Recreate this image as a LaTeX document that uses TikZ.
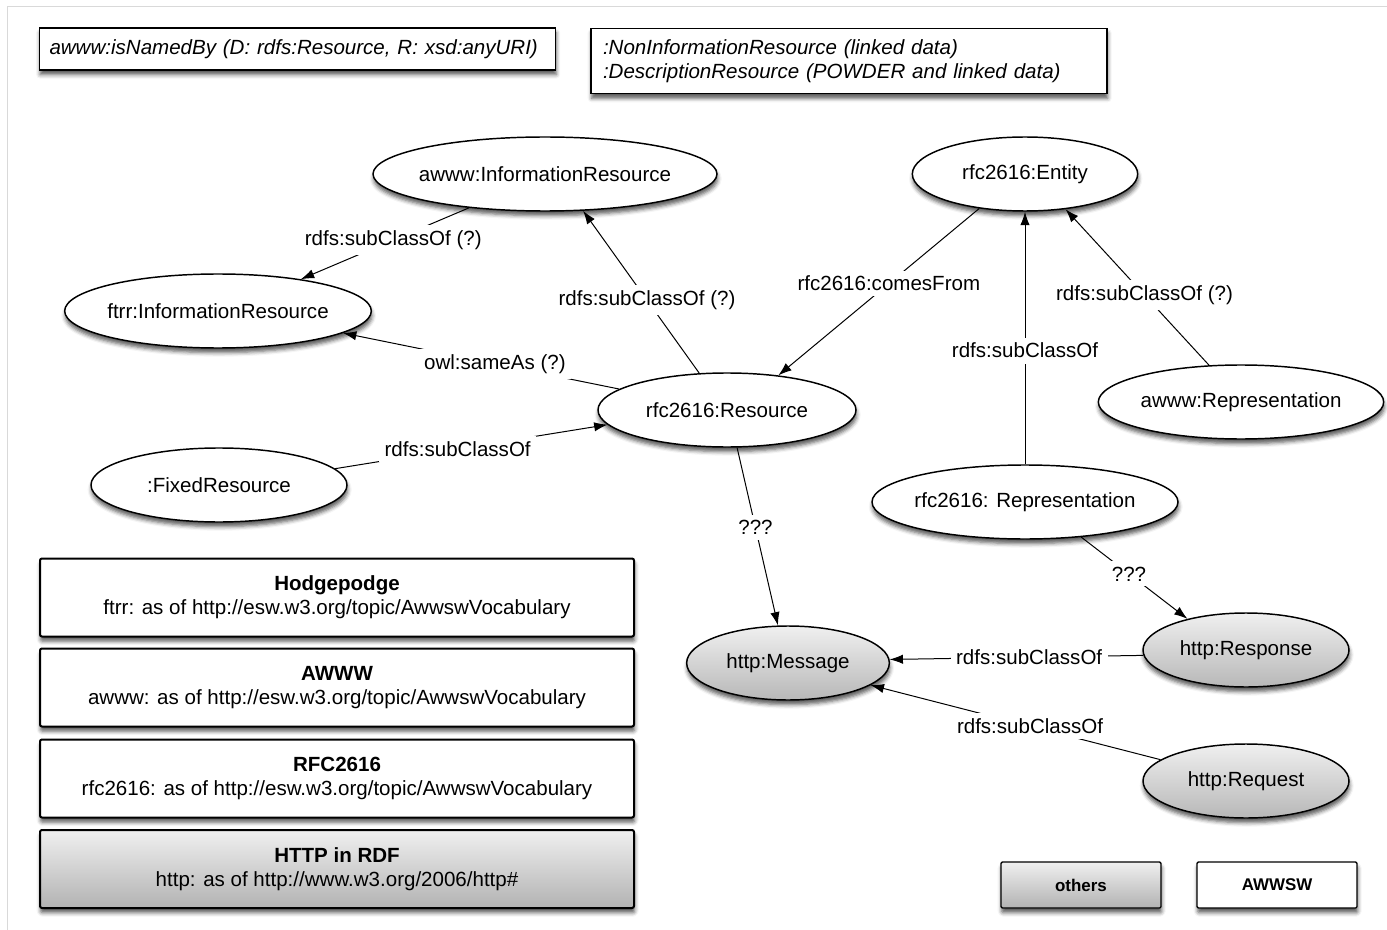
\documentclass[tikz,border=0pt]{standalone}
\usepackage{fontspec}
\setmainfont{Liberation Sans}
\usetikzlibrary{shapes.geometric,arrows.meta,shadows.blur}
\newcommand{\ctext}[1]{\makebox[0pt]{#1}}

\begin{document}
\begin{tikzpicture}[x=0.75pt,y=0.75pt,yscale=-1,xscale=1,
	font=\fontsize{15.4}{18}\selectfont,
	shade/.style={blur shadow={shadow xshift=0.5pt,shadow yshift=-3.5pt,shadow blur radius=3pt,shadow opacity=65}},
	cls/.style={ellipse,draw,line width=1.1pt,fill=white,inner sep=0pt,minimum height=55.5pt,minimum width=#1,shade},
	httpcls/.style={cls=#1,top color=black!6,bottom color=black!28},
	note/.style={draw,line width=1pt,fill=white,align=left,inner ysep=0pt,shade},
	vocab/.style={draw,line width=1.5pt,rounded corners=1.5pt,fill=white,align=center,minimum width=445.5pt,minimum height=58.5pt,shade},
	key/.style={draw,line width=1pt,rounded corners=1pt,fill=white,minimum width=120pt,minimum height=34.5pt,font=\fontsize{12.7}{15}\selectfont\bfseries,shade},
	rel/.style={-{Latex[length=10pt,width=7pt]},line width=0.75pt},
	lbl/.style={fill=white,inner sep=4pt,pos=0.45}]
	\useasboundingbox (0,0) rectangle (1387,930);
	%frame
	\draw[black!15] (7,930) -- (7,6) -- (1387,6);

	%Shape: Rectangle
	\node[note,minimum width=387pt,minimum height=31.5pt,text width=372pt] (named) at (297.5,49) {\itshape awww:isNamedBy (D: rdfs:Resource, R: xsd:anyURI)};
	%Shape: Rectangle
	\node[note,minimum width=387pt,minimum height=49pt,text width=369pt] (kinds) at (849,61) {\itshape :NonInformationResource (linked data)\\\itshape :DescriptionResource (POWDER and linked data)};

	%Shape: Ellipse
	\node[cls=258pt] (awwwIR) at (545,174) {\ctext{awww:InformationResource}};
	%Shape: Ellipse
	\node[cls=169pt] (entity) at (1025,174) {\ctext{rfc2616:Entity}};
	%Shape: Ellipse
	\node[cls=230pt] (ftrrIR) at (218,311) {\ctext{ftrr:InformationResource}};
	%Shape: Ellipse
	\node[cls=193.5pt] (resource) at (727,410) {\ctext{rfc2616:Resource}};
	%Shape: Ellipse
	\node[cls=214pt] (awwwRep) at (1241,402) {\ctext{awww:Representation}};
	%Shape: Ellipse
	\node[cls=192pt] (fixed) at (219,485) {\ctext{:FixedResource}};
	%Shape: Ellipse
	\node[cls=229.5pt] (rep) at (1025,502) {\ctext{rfc2616: Representation}};
	%Shape: Ellipse
	\node[httpcls=152pt] (message) at (788,663) {\ctext{http:Message}};
	%Shape: Ellipse
	\node[httpcls=154.5pt] (response) at (1246,650) {\ctext{http:Response}};
	%Shape: Ellipse
	\node[httpcls=154.5pt] (request) at (1246,781) {\ctext{http:Request}};

	%Straight Lines
	\draw[rel] (awwwIR.204) -- node[lbl] {rdfs:subClassOf (?)} (ftrrIR.21);
	%Straight Lines
	\draw[rel] (resource.127) -- node[lbl] {rdfs:subClassOf (?)} (awwwIR.316);
	%Straight Lines
	\draw[rel] (resource.169) -- node[lbl] {owl:sameAs (?)} (ftrrIR.350);
	%Straight Lines
	\draw[rel] (fixed.8) -- node[lbl] {rdfs:subClassOf} (resource.187);
	%Straight Lines
	\draw[rel] (entity.217) -- node[lbl] {rfc2616:comesFrom} (resource.34);
	%Straight Lines
	\draw[rel] (rep.north) -- node[lbl] {rdfs:subClassOf} (entity.south);
	%Straight Lines
	\draw[rel] (awwwRep.131) -- node[lbl] {rdfs:subClassOf (?)} (entity.319);
	%Straight Lines
	\draw[rel] (resource.285) -- node[lbl] {???} (message.105);
	%Straight Lines
	\draw[rel] (rep.328) -- node[lbl] {???} (response.152);
	%Straight Lines
	\draw[rel] (response.183) -- node[lbl] {rdfs:subClassOf} (message.2);
	%Straight Lines
	\draw[rel] (request.166) -- node[lbl] {rdfs:subClassOf} (message.345);

	% Text Node
	\node[vocab] (hodge) at (337,597.5) {\textbf{Hodgepodge}\\ftrr: as of http://esw.w3.org/topic/AwwswVocabulary};
	% Text Node
	\node[vocab] (awww) at (337,687.5) {\textbf{AWWW}\\awww: as of http://esw.w3.org/topic/AwwswVocabulary};
	% Text Node
	\node[vocab] (rfc) at (337,778.5) {\textbf{RFC2616}\\rfc2616: as of http://esw.w3.org/topic/AwwswVocabulary};
	% Text Node
	\node[vocab,top color=black!6,bottom color=black!30] (httprdf) at (337,869) {\textbf{HTTP in RDF}\\http: as of http://www.w3.org/2006/http\#};
	% Text Node
	\node[key,top color=black!6,bottom color=black!30] (others) at (1081,885) {others};
	% Text Node
	\node[key] (awwsw) at (1277,885) {AWWSW};
\end{tikzpicture}
\end{document}
